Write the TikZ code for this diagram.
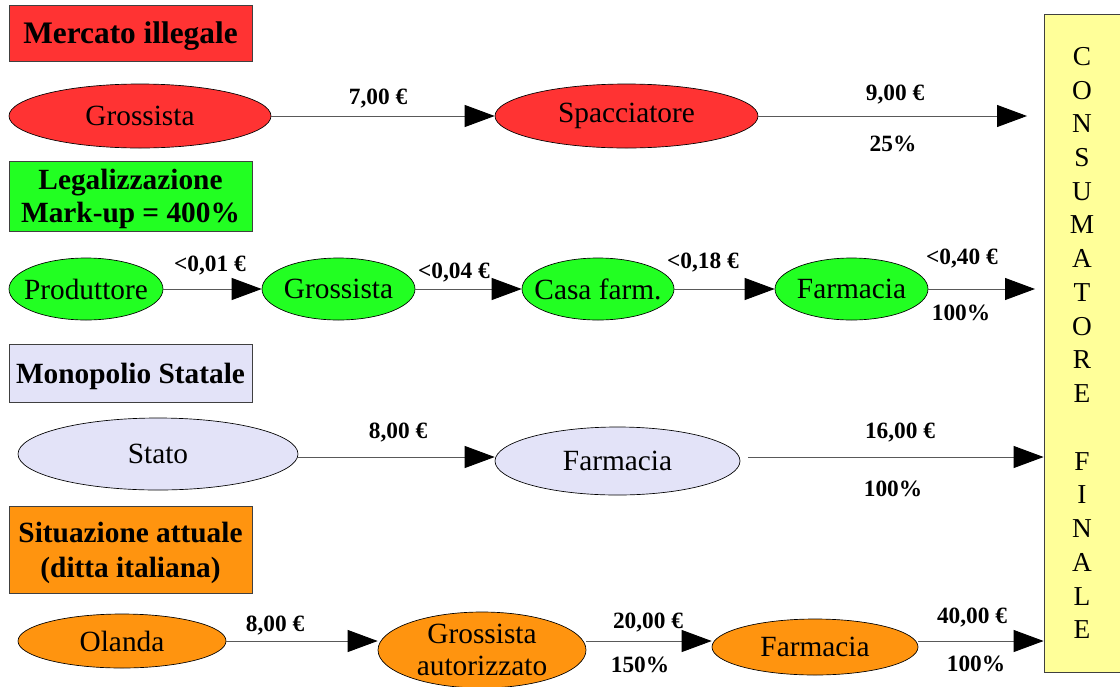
\documentclass[tikz,border=0pt]{standalone}
\usepackage{fontspec}
\setmainfont{Liberation Serif}
\usetikzlibrary{shapes.geometric,arrows.meta}
\definecolor{cred}{HTML}{FF3333}
\definecolor{cgreen}{HTML}{22FF22}
\definecolor{clav}{HTML}{E3E3F8}
\definecolor{corange}{HTML}{FF940F}
\definecolor{cyellow}{HTML}{FFFF99}
\begin{document}
\begin{tikzpicture}[x=0.75pt,y=-0.75pt,
  hbox/.style={draw=black!75, line width=0.6pt, rectangle, inner sep=0pt, align=center,
    font=\fontsize{22}{25}\selectfont\bfseries, minimum width=243*0.75pt, text depth=0pt},
  ell/.style={draw=black, line width=0.5pt, ellipse, inner sep=0pt,
    label={[font=\fontsize{22}{24}\selectfont, align=center, inner sep=0pt]center:#1}},
  lab/.style={font=\fontsize{17.5}{20}\selectfont\bfseries, inner sep=0pt},
  flow/.style={draw=black!65, line width=0.7pt,
    -{Triangle[length=22.5pt,width=16.5pt,color=black]}}
]
\fill[white] (0,0) rectangle (1120,686);
\useasboundingbox (0,0) rectangle (1120,686);

% consumer box
\node[draw=black!75, line width=0.6pt, fill=cyellow, minimum width=76*0.75pt,
  minimum height=658*0.75pt, inner sep=0pt, align=center,
  font=\fontsize{20.5}{25.3}\selectfont] (cons) at (1082,343)
  {C\\O\\N\\S\\U\\M\\A\\T\\O\\R\\E\\[25.3pt]F\\I\\N\\A\\L\\E};

% headings
\node[hbox, fill=cred, minimum height=56*0.75pt, font=\fontsize{23.5}{26}\selectfont\bfseries] (h1) at (130.5,33) {Mercato illegale};
\node[hbox, fill=cgreen, minimum height=70*0.75pt, font=\fontsize{22}{25}\selectfont\bfseries] (h2) at (130.5,196) {Legalizzazione\\Mark-up = 400\%};
\node[hbox, fill=clav, minimum height=58*0.75pt] (h3) at (130.5,373) {Monopolio Statale};
\node[hbox, fill=corange, minimum height=87*0.75pt, font=\fontsize{22}{26.5}\selectfont\bfseries] (h4) at (130.5,549.5) {Situazione attuale\\(ditta italiana)};

% row 1
\node[ell={Grossista}, fill=cred, minimum width=262*0.75pt, minimum height=64*0.75pt] (r1a) at (140,116) {};
\node[ell={Spacciatore}, fill=cred, minimum width=263*0.75pt, minimum height=64*0.75pt] (r1b) at (626.5,116) {};
\coordinate (r1e) at (1027,116);
\draw[flow] (r1a) -- (r1b);
\draw[flow] (r1b) -- (r1e);
\node[lab] (l11) at (378,99) {7,00 €};
\node[lab] (l12) at (895,95) {9,00 €};
\node[lab] (l13) at (893,144) {25\%};

% row 2
\node[ell={Produttore}, fill=cgreen, minimum width=154*0.75pt, minimum height=62*0.75pt] (r2a) at (86,289) {};
\node[ell={Grossista}, fill=cgreen, minimum width=153*0.75pt, minimum height=62*0.75pt] (r2b) at (338.5,289) {};
\node[ell={Casa farm.}, fill=cgreen, minimum width=152*0.75pt, minimum height=62*0.75pt] (r2c) at (598,289) {};
\node[ell={Farmacia}, fill=cgreen, minimum width=153*0.75pt, minimum height=62*0.75pt] (r2d) at (851.5,289) {};
\coordinate (r2e) at (1035,289);
\draw[flow] (r2a) -- (r2b);
\draw[flow] (r2b) -- (r2c);
\draw[flow] (r2c) -- (r2d);
\draw[flow] (r2d) -- (r2e);
\node[lab] (l21) at (210,266) {<0,01 €};
\node[lab] (l22) at (454,273) {<0,04 €};
\node[lab] (l23) at (703,263) {<0,18 €};
\node[lab] (l24) at (962,259) {<0,40 €};
\node[lab] (l25) at (961,313) {100\%};

% row 3
\node[ell={Stato}, fill=clav, minimum width=280*0.75pt, minimum height=72*0.75pt] (r3a) at (158,454) {};
\node[ell={Farmacia}, fill=clav, minimum width=245*0.75pt, minimum height=68*0.75pt] (r3b) at (617.5,461) {};
\draw[flow] (r3a.east |- 0,457) -- (r3b.west |- 0,457);
\draw[flow] ([xshift=8*0.75pt]r3b.east |- 0,457) -- (cons.west |- 0,457);
\node[lab] (l31) at (398,433) {8,00 €};
\node[lab] (l32) at (900,433) {16,00 €};
\node[lab] (l33) at (893,489) {100\%};

% row 4
\node[ell={Olanda}, fill=corange, minimum width=208*0.75pt, minimum height=54*0.75pt] (r4a) at (122,641) {};
\node[ell={Grossista\\autorizzato}, fill=corange, minimum width=208*0.75pt, minimum height=76*0.75pt] (r4b) at (482,650) {};
\node[ell={Farmacia}, fill=corange, minimum width=206*0.75pt, minimum height=56*0.75pt] (r4c) at (815,647) {};
\draw[flow] (r4a.east) -- (r4b.west |- r4a.east);
\draw[flow] (r4b.east |- r4a.east) -- (r4c.west |- r4a.east);
\draw[flow] (r4c.east |- r4a.east) -- (cons.west |- r4a.east);
\node[lab] (l41) at (275,626) {8,00 €};
\node[lab] (l42) at (648,623) {20,00 €};
\node[lab] (l43) at (640,665) {150\%};
\node[lab] (l44) at (972,618) {40,00 €};
\node[lab] (l45) at (976,664) {100\%};
\end{tikzpicture}
\end{document}
